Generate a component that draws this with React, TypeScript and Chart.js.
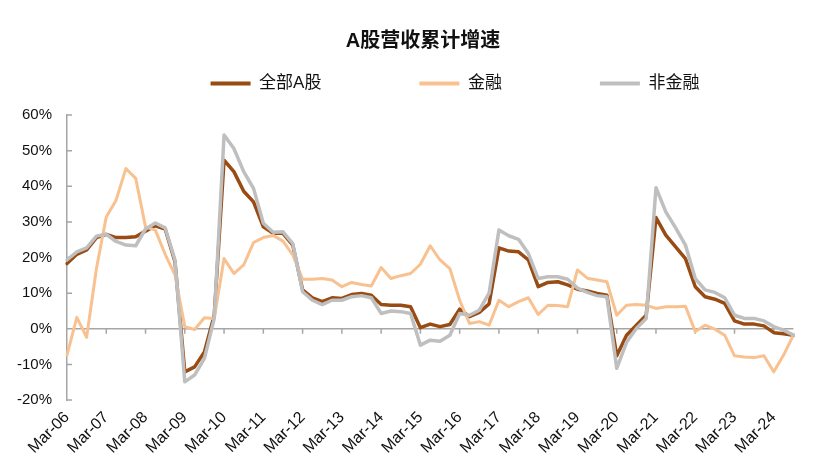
import { useEffect, useRef } from 'react';
import { Chart, registerables } from 'chart.js';

Chart.register(...registerables);

const categories = [
  'Mar-06', 'Jun-06', 'Sep-06', 'Dec-06', 'Mar-07', 'Jun-07', 'Sep-07', 'Dec-07',
  'Mar-08', 'Jun-08', 'Sep-08', 'Dec-08', 'Mar-09', 'Jun-09', 'Sep-09', 'Dec-09',
  'Mar-10', 'Jun-10', 'Sep-10', 'Dec-10', 'Mar-11', 'Jun-11', 'Sep-11', 'Dec-11',
  'Mar-12', 'Jun-12', 'Sep-12', 'Dec-12', 'Mar-13', 'Jun-13', 'Sep-13', 'Dec-13',
  'Mar-14', 'Jun-14', 'Sep-14', 'Dec-14', 'Mar-15', 'Jun-15', 'Sep-15', 'Dec-15',
  'Mar-16', 'Jun-16', 'Sep-16', 'Dec-16', 'Mar-17', 'Jun-17', 'Sep-17', 'Dec-17',
  'Mar-18', 'Jun-18', 'Sep-18', 'Dec-18', 'Mar-19', 'Jun-19', 'Sep-19', 'Dec-19',
  'Mar-20', 'Jun-20', 'Sep-20', 'Dec-20', 'Mar-21', 'Jun-21', 'Sep-21', 'Dec-21',
  'Mar-22', 'Jun-22', 'Sep-22', 'Dec-22', 'Mar-23', 'Jun-23', 'Sep-23', 'Dec-23',
  'Mar-24', 'Jun-24', 'Sep-24',
];

const allAShares = [
  18.3, 20.9, 22.1, 25.6, 26.5, 25.6, 25.6, 25.8,
  27.4, 28.9, 28.0, 18.8, -12.1, -10.7, -6.5, 3.8,
  47.3, 44.1, 38.6, 35.6, 28.6, 26.8, 26.8, 23.5,
  10.9, 8.7, 7.6, 8.7, 8.5, 9.6, 9.9, 9.4,
  6.8, 6.6, 6.6, 6.2, 0.3, 1.3, 0.6, 1.2,
  5.5, 3.4, 4.6, 7.0, 22.7, 21.8, 21.6, 19.3,
  11.8, 13.0, 13.2, 12.3, 11.1, 10.6, 9.9, 9.4,
  -7.6, -1.8, 1.0, 3.8, 31.2, 26.3, 23.0, 19.7,
  11.8, 9.0, 8.3, 7.1, 2.2, 1.3, 1.3, 0.8,
  -1.1, -1.4, -1.8,
];

const financials = [
  -7.4, 3.2, -2.4, 16.9, 31.4, 36.1, 45.0, 42.2,
  28.6, 27.7, 20.9, 15.1, 0.6, -0.2, 3.1, 2.9,
  19.7, 15.5, 17.9, 24.2, 25.6, 26.2, 24.6, 20.7,
  13.9, 13.9, 14.1, 13.7, 11.8, 13.0, 12.4, 12.0,
  17.2, 14.1, 14.9, 15.5, 18.1, 23.3, 19.3, 16.9,
  8.0, 1.5, 2.0, 1.0, 8.0, 6.2, 7.6, 8.7,
  4.0, 6.6, 6.5, 6.2, 16.5, 14.2, 13.7, 13.2,
  3.8, 6.6, 6.8, 6.6, 5.7, 6.2, 6.2, 6.3,
  -0.8, 1.0, -0.1, -1.8, -7.6, -7.9, -8.1, -7.6,
  -12.1, -7.4, -1.8,
];

const nonFinancials = [
  19.3, 21.6, 22.7, 26.0, 26.5, 24.5, 23.5, 23.3,
  28.0, 29.7, 28.3, 19.3, -14.9, -13.0, -8.3, 2.9,
  54.4, 50.6, 44.1, 39.4, 29.6, 27.1, 27.2, 23.9,
  10.4, 8.0, 6.8, 8.0, 8.0, 9.0, 9.3, 8.7,
  4.3, 5.0, 4.8, 4.3, -4.6, -3.2, -3.5, -1.8,
  4.3, 3.8, 5.2, 10.0, 27.7, 26.1, 25.1, 21.1,
  14.1, 14.6, 14.6, 13.9, 11.4, 10.2, 9.3, 9.0,
  -11.1, -3.8, 0.1, 2.9, 39.6, 32.8, 28.3, 23.5,
  14.1, 10.9, 10.2, 8.7, 3.8, 2.9, 2.9, 2.2,
  0.6, -0.4, -1.8,
];

const seriesNames = ['全部A股', '金融', '非金融'];
const titleText = 'A股营收累计增速';

const BROWN = '#984B12';
const PEACH = '#F9C18F';
const GREY = '#BFBFBF';
const AXIS = '#A6A6A6';

const axisMarks = {
  id: 'axisMarks',
  beforeDatasetsDraw(chart: any) {
    const { ctx, chartArea, scales } = chart;
    const x = scales.x;
    const y = scales.y;
    const y0 = y.getPixelForValue(0);
    ctx.save();
    ctx.strokeStyle = AXIS;
    ctx.lineWidth = 1.5;
    ctx.beginPath();
    ctx.moveTo(chartArea.left, y0);
    ctx.lineTo(chartArea.right, y0);
    categories.forEach((c, i) => {
      if (c.startsWith('Mar') && i > 0) {
        const px = x.getPixelForValue(i);
        ctx.moveTo(px, y0);
        ctx.lineTo(px, y0 + 5);
      }
    });
    y.ticks.forEach((t: any) => {
      const py = y.getPixelForValue(t.value);
      ctx.moveTo(chartArea.left, py);
      ctx.lineTo(chartArea.left + 5, py);
    });
    ctx.stroke();
    ctx.restore();
  },
};

// Shift the built-in legend and title to match the reference's off-centre placement.
const blockShift = {
  id: 'blockShift',
  afterLayout(chart: any) {
    const lg = chart.legend;
    if (lg) {
      lg.left += 54;
      lg.right += 54;
      lg.top -= 76;
    }
    const tb = chart.titleBlock;
    if (tb) {
      tb.left += 22;
      tb.right += 22;
    }
  },
};

export default function App() {
  const ref = useRef<HTMLCanvasElement | null>(null);

  useEffect(() => {
    if (!ref.current) return;
    Chart.defaults.font.family = '"Liberation Sans", Arial, "Noto Sans CJK SC", sans-serif';
    Chart.defaults.color = '#1a1a1a';
    const chart = new Chart(ref.current, {
      type: 'line',
      data: {
        labels: categories,
        datasets: [
          {
            label: seriesNames[0],
            data: allAShares,
            borderColor: BROWN,
            backgroundColor: BROWN,
            borderWidth: 3.5,
            order: 2,
          },
          {
            label: seriesNames[1],
            data: financials,
            borderColor: PEACH,
            backgroundColor: PEACH,
            borderWidth: 3,
            order: 1,
          },
          {
            label: seriesNames[2],
            data: nonFinancials,
            borderColor: GREY,
            backgroundColor: GREY,
            borderWidth: 3.5,
            order: 0,
          },
        ],
      },
      options: {
        animation: false,
        responsive: true,
        maintainAspectRatio: false,
        layout: { padding: { left: 0, right: 21, top: 0, bottom: 0 } },
        elements: {
          point: { radius: 0, hoverRadius: 0 },
          line: { tension: 0, borderJoinStyle: 'round', borderCapStyle: 'round', fill: false },
        },
        plugins: {
          tooltip: { enabled: false },
          title: {
            display: true,
            text: titleText,
            color: '#111',
            font: { size: 20, weight: 'bold' },
            padding: { top: 21, bottom: 0 },
          },
          legend: {
            display: true,
            position: 'top',
            maxHeight: 62,
            labels: {
              boxWidth: 40,
              boxHeight: 4,
              padding: 98,
              color: '#111',
              font: { size: 17 },
              sort: (a: any, b: any) => a.datasetIndex - b.datasetIndex,
              generateLabels: (chart: any) =>
                Chart.defaults.plugins.legend.labels
                  .generateLabels(chart)
                  .map((it: any) => ({ ...it, lineWidth: 0, fillStyle: it.strokeStyle })),
            },
          },
        },
        scales: {
          x: {
            type: 'category',
            offset: false,
            grid: { display: false, drawTicks: false },
            border: { display: false },
            afterFit: (s: any) => {
              s.height = 67;
            },
            ticks: {
              autoSkip: false,
              minRotation: 45,
              maxRotation: 45,
              padding: 8,
              color: '#111',
              font: { size: 16 },
              callback: (_v: any, i: number) => (categories[i].startsWith('Mar') ? categories[i] : ''),
            },
          },
          y: {
            min: -20,
            max: 60,
            grid: { display: false, drawTicks: false },
            border: { display: true, color: AXIS, width: 1.5 },
            afterFit: (s: any) => {
              s.width = 59;
            },
            ticks: {
              stepSize: 10,
              padding: 15,
              color: '#111',
              font: { size: 15 },
              callback: (v: any) => `${v}%`,
            },
          },
        },
      },
      plugins: [axisMarks, blockShift],
    });
    return () => chart.destroy();
  }, []);

  return (
    <div style={{ position: 'relative', width: 807, height: 459 }}>
      <canvas ref={ref} />
    </div>
  );
}
